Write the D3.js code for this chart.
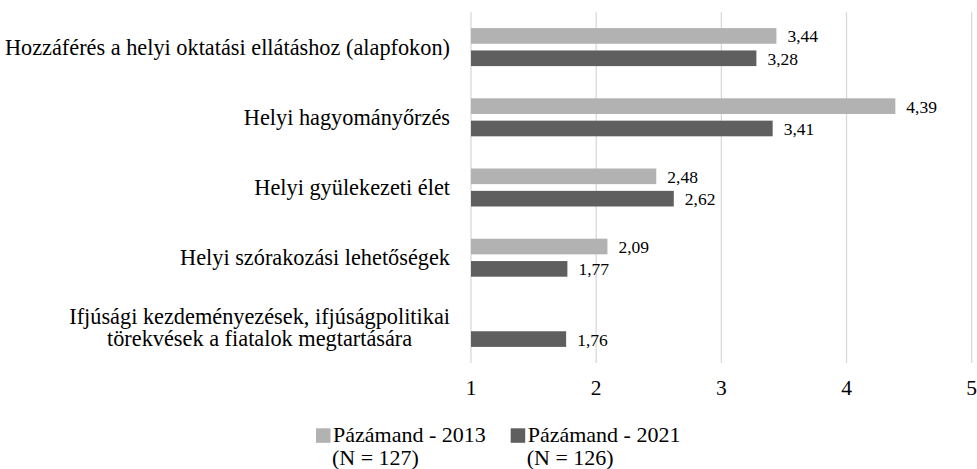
<!DOCTYPE html>
<html><head><meta charset="utf-8">
<script src="https://cdn.jsdelivr.net/npm/d3@7/dist/d3.min.js"></script>
<style>body{margin:0;background:#fff}svg{display:block}text{font-family:"Liberation Serif","Times New Roman",serif;fill:#000}</style>
</head><body><svg id="c" width="977" height="469"></svg>
<script>
const categories = [
  ["Hozzáférés a helyi oktatási ellátáshoz (alapfokon)"],
  ["Helyi hagyományőrzés"],
  ["Helyi gyülekezeti élet"],
  ["Helyi szórakozási lehetőségek"],
  ["Ifjúsági kezdeményezések, ifjúságpolitikai", "törekvések a fiatalok megtartására"]
];
const seriesNames = ["Pázámand - 2013", "Pázámand - 2021"];
const seriesN = ["(N = 127)", "(N = 126)"];
const values2013 = [3.44, 4.39, 2.48, 2.09, null];
const values2021 = [3.28, 3.41, 2.62, 1.77, 1.76];
const xTicks = [1, 2, 3, 4, 5];
const colors = ["#b2b2b2", "#5f5f5f"];

const FONT = "Liberation Serif, Times New Roman, serif";
const svg = d3.select("#c");
const fsCat = 22.3, fsTick = 21.5, fsVal = 17.5, fsLeg = 22;
const x = d3.scaleLinear().domain([1, 5]).range([471, 971.7]);
const keys = categories.map((c, i) => i);
const y0 = d3.scaleBand().domain(keys).range([12, 363]).padding(0);
const bw = y0.bandwidth();
const y1 = d3.scaleBand().domain([0, 1]).range([bw / 2 - 19, bw / 2 + 19]).paddingInner(0.3).paddingOuter(0);
const fmt = v => d3.format(".2f")(v).replace(".", ",");

// gridlines
svg.append("g").selectAll("line").data(xTicks).join("line")
  .attr("x1", d => x(d)).attr("x2", d => x(d))
  .attr("y1", 12).attr("y2", 363)
  .attr("stroke", "#d9d9d9").attr("stroke-width", 1.3);

// tick labels
svg.append("g").selectAll("text").data(xTicks).join("text")
  .attr("x", d => x(d)).attr("y", 395).attr("text-anchor", "middle")
  .attr("font-family", FONT).style("font-size", fsTick + "px").text(d => d);

const series = [values2013, values2021];
series.forEach((vals, s) => {
  const data = vals.map((v, i) => ({v, i})).filter(d => d.v != null);
  const g = svg.append("g");
  g.selectAll("rect").data(data).join("rect")
    .attr("x", x(1)).attr("y", d => y0(d.i) + y1(s))
    .attr("width", d => x(d.v) - x(1)).attr("height", y1.bandwidth())
    .attr("fill", colors[s]);
  g.selectAll("text").data(data).join("text")
    .attr("x", d => x(d.v) + 11)
    .attr("y", d => y0(d.i) + y1(s) + y1.bandwidth() / 2 + 6.5)
    .attr("font-family", FONT).style("font-size", fsVal + "px").text(d => fmt(d.v));
});

// category labels
categories.forEach((lines, i) => {
  const cy = y0(i) + bw / 2;
  const lh = 22;
  const t = svg.append("text").attr("font-family", FONT).style("font-size", fsCat + "px");
  if (lines.length === 1) {
    t.attr("x", 450).attr("y", cy + 7.5).attr("text-anchor", "end").text(lines[0]);
  } else {
    t.attr("text-anchor", "middle");
    const tmp = svg.append("text").attr("font-family", FONT).style("font-size", fsCat + "px").text(lines[0]);
    const w = tmp.node().getComputedTextLength();
    tmp.remove();
    const cx = 450 - w / 2;
    lines.forEach((ln, k) => {
      t.append("tspan").attr("x", cx)
        .attr("y", cy + 7.5 - (lines.length - 1) * lh / 2 + k * lh).text(ln);
    });
  }
});

// legend
const lx = [316, 510.7];
seriesNames.forEach((name, s) => {
  svg.append("rect").attr("x", lx[s]).attr("y", 428.3).attr("width", 14.5).attr("height", 14.5).attr("fill", colors[s]);
  svg.append("text").attr("x", lx[s] + 17).attr("y", 442).attr("font-family", FONT).style("font-size", fsLeg + "px").text(name);
  svg.append("text").attr("x", lx[s] + 16).attr("y", 465).attr("font-family", FONT).style("font-size", fsLeg + "px").text(seriesN[s]);
});
</script></body></html>
